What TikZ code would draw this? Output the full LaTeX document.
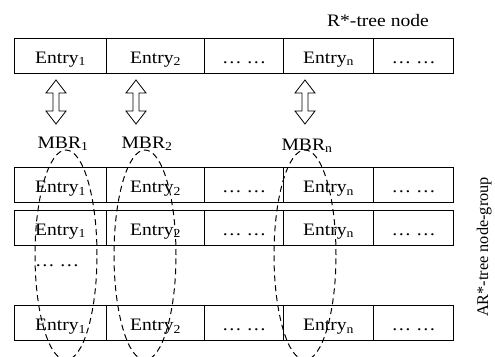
\documentclass[tikz,border=0pt]{standalone}
\usepackage{fontspec}
\setmainfont{Liberation Serif}
\newfontfamily\hfont{Liberation Serif}[FakeStretch=1.12]
\usetikzlibrary{shapes.geometric}
\begin{document}
\begin{tikzpicture}[x=1pt,y=-1pt,
  cell/.style={draw, line width=1.2pt, minimum height=35pt, inner sep=0pt,
    text height=15pt, text depth=0pt, anchor=north west,
    font=\hfont\fontsize{17.5}{20}\selectfont},
  lbl/.style={inner sep=0pt, font=\hfont\fontsize{17.5}{20}\selectfont},
  vlbl/.style={inner sep=0pt, font=\fontsize{16.3}{19}\selectfont},
  arr/.style={draw, line width=0.8pt, fill=white, line join=miter},
  mbr/.style={ellipse, draw, dash pattern=on 6pt off 4pt, line width=1pt,
    minimum width=62pt, minimum height=210pt, inner sep=0pt}]
\clip (0,0) rectangle (495,356);
\useasboundingbox (0,0) rectangle (495,356);
\foreach \r/\y in {1/37.5, 2/167, 3/209.5, 4/305} {
  \node[cell, minimum width=92pt] (r\r-1) at (14,\y) {Entry\textsubscript{1}};
  \node[cell, minimum width=98pt] (r\r-2) at (106,\y) {Entry\textsubscript{2}};
  \node[cell, minimum width=79pt] (r\r-3) at (204,\y) {… …};
  \node[cell, minimum width=90pt] (r\r-4) at (283,\y) {Entry\textsubscript{n}};
  \node[cell, minimum width=80pt] (r\r-5) at (373,\y) {… …};
}
\node[lbl, anchor=base] (title) at (378,26) {R*-tree node};
\foreach \cx in {56,136,305} {
  \draw[arr] (\cx,80) -- (\cx+10,93) -- (\cx+3,93) -- (\cx+3,111) -- (\cx+10,111)
    -- (\cx,124) -- (\cx-10,111) -- (\cx-3,111) -- (\cx-3,93) -- (\cx-10,93) -- cycle;
}
\node[lbl, anchor=base] (m1) at (63,148) {MBR\textsubscript{1}};
\node[lbl, anchor=base] (m2) at (147,148) {MBR\textsubscript{2}};
\node[lbl, anchor=base] (m3) at (307,150) {MBR\textsubscript{n}};
\node[lbl, anchor=base west] (dots) at (35,266) {… …};
\node[mbr] (e1) at (66,255) {};
\node[mbr] (e2) at (145,255) {};
\node[mbr] (e3) at (305,255) {};
\node[vlbl, rotate=90, anchor=base] (vt) at (488,247) {AR*-tree node-group};
\end{tikzpicture}
\end{document}
